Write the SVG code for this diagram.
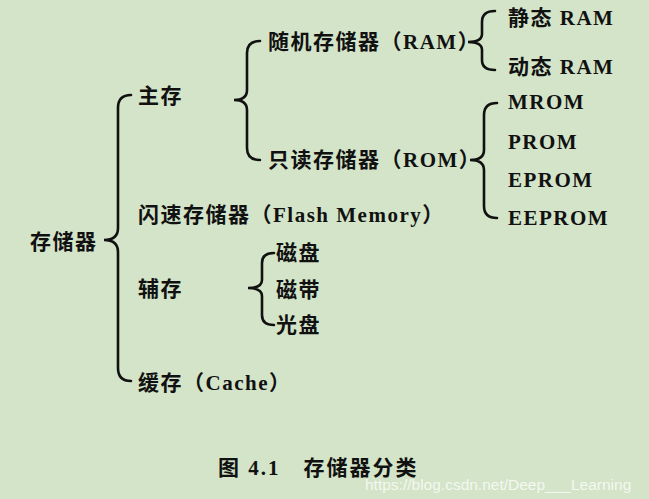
<svg xmlns="http://www.w3.org/2000/svg" width="649" height="499" viewBox="0 0 649 499">
<style>
text{font-family:"Liberation Serif","Noto Sans CJK SC",serif;font-weight:bold;font-size:21px;letter-spacing:1.5px;fill:#111;dominant-baseline:central}
.b{fill:none;stroke:#111;stroke-width:2.6;stroke-linecap:round}
.wm{font-family:"Liberation Sans",sans-serif;font-weight:normal;font-size:15.5px;letter-spacing:0;fill:#f4f8f0}
</style>
<rect width="649" height="499" fill="#d3e4c8"/>
<g id="connectors">
<path class="b" d="M131,95 Q118,95 118,108 L118,228 Q118,240 104,240 Q118,240 118,252 L118,368 Q118,381 131,381"/>
<path class="b" d="M260,41 Q247,41 247,53 L247,90 Q247,100 234,100 Q247,100 247,110 L247,148 Q247,160 260,160"/>
<path class="b" d="M495,11 Q482,11 482,22 L482,34 Q482,42 468,42 Q482,42 482,50 L482,60 Q482,70 495,70"/>
<path class="b" d="M497,103 Q484,103 484,115 L484,150 Q484,160 470,160 Q484,160 484,170 L484,206 Q484,218 497,218"/>
<path class="b" d="M274,253 Q262,253 262,263 L262,280 Q262,288 248,288 Q262,288 262,296 L262,315 Q262,325 274,325"/>
</g>
<g id="n-root"><text x="30" y="242">存储器</text></g>
<g id="n-main"><text x="138" y="96">主存</text></g>
<g id="n-flash"><text x="138" y="215">闪速存储器（Flash Memory）</text></g>
<g id="n-aux"><text x="138" y="289">辅存</text></g>
<g id="n-cache"><text x="138" y="383">缓存（Cache）</text></g>
<g id="n-ram"><text x="268" y="42">随机存储器（RAM）</text></g>
<g id="n-rom"><text x="268" y="160">只读存储器（ROM）</text></g>
<g id="n-sram"><text x="508" y="18">静态 RAM</text></g>
<g id="n-dram"><text x="508" y="67">动态 RAM</text></g>
<g id="n-mrom"><text x="508" y="102">MROM</text></g>
<g id="n-prom"><text x="508" y="142">PROM</text></g>
<g id="n-eprom"><text x="508" y="180">EPROM</text></g>
<g id="n-eeprom"><text x="508" y="218">EEPROM</text></g>
<g id="n-disk"><text x="276" y="253">磁盘</text></g>
<g id="n-tape"><text x="276" y="290">磁带</text></g>
<g id="n-optical"><text x="276" y="325">光盘</text></g>
<text x="218" y="468" style="font-size:21px;letter-spacing:2px">图 4.1　存储器分类</text>
<text class="wm" x="365" y="484">https://blog.csdn.net/Deep___Learning</text>
</svg>
